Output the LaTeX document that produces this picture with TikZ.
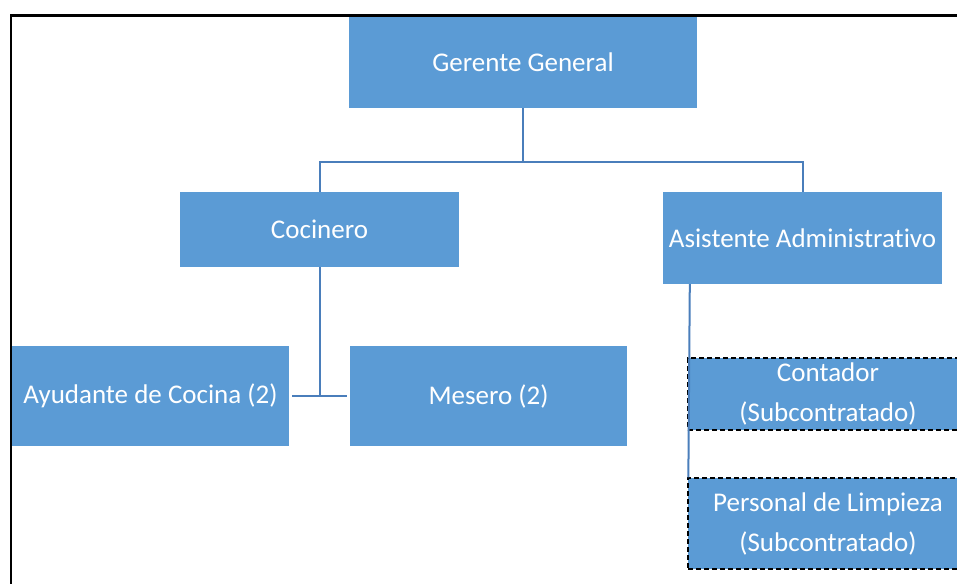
\documentclass[tikz,border=0pt]{standalone}
\usepackage{fontspec}
\setmainfont[Ligatures=NoCommon]{Carlito}
\definecolor{boxblue}{HTML}{5B9BD5}
\definecolor{lineblue}{HTML}{4A7EBB}
\begin{document}
\begin{tikzpicture}[x=1pt,y=-1pt,
  box/.style={draw=none,fill=boxblue,text=white,inner sep=0pt,align=center,
    font=\fontsize{27}{40}\selectfont},
  subbox/.style={box,draw=black,dash pattern=on 5pt off 3pt,line width=1.3pt},
  conn/.style={draw=lineblue,line width=2pt}]
\useasboundingbox (0,0) rectangle (957,583);
\clip (0,0) rectangle (957,583);
\draw[line width=2.5pt] (11,600) -- (11,15.5) -- (975,15.5);
\node[box,minimum width=348pt,minimum height=91pt] (gg) at (523,62.5) {Gerente General};
\node[box,minimum width=279pt,minimum height=75pt] (coc) at (319.5,229.5) {Cocinero};
\node[box,minimum width=279pt,minimum height=92pt] (asis) at (802.5,238) {Asistente Administrativo};
\node[box,minimum width=277pt,minimum height=100pt] (ayu) at (150.5,396) {Ayudante de Cocina (2)};
\node[box,minimum width=277pt,minimum height=100pt] (mes) at (488.5,396) {Mesero (2)};
\node[subbox,minimum width=280pt,minimum height=72pt] (cont) at (828,394) {Contador\\(Subcontratado)};
\node[subbox,minimum width=280pt,minimum height=91pt] (limp) at (828,523.5) {Personal de Limpieza\\(Subcontratado)};
\draw[conn] (gg.south) -- ++(0,54) -| (coc.north);
\draw[conn] (gg.south) -- ++(0,54) -| (asis.north);
\draw[conn] (coc.south) -- (coc.south |- ayu.east);
\draw[conn] ([xshift=3pt]ayu.east) -- ([xshift=-3pt]mes.west);
\coordinate (asisdrop) at ([xshift=27pt]asis.south west);
\draw[conn] (asisdrop) -- ([xshift=1pt]limp.north west);
\end{tikzpicture}
\end{document}
